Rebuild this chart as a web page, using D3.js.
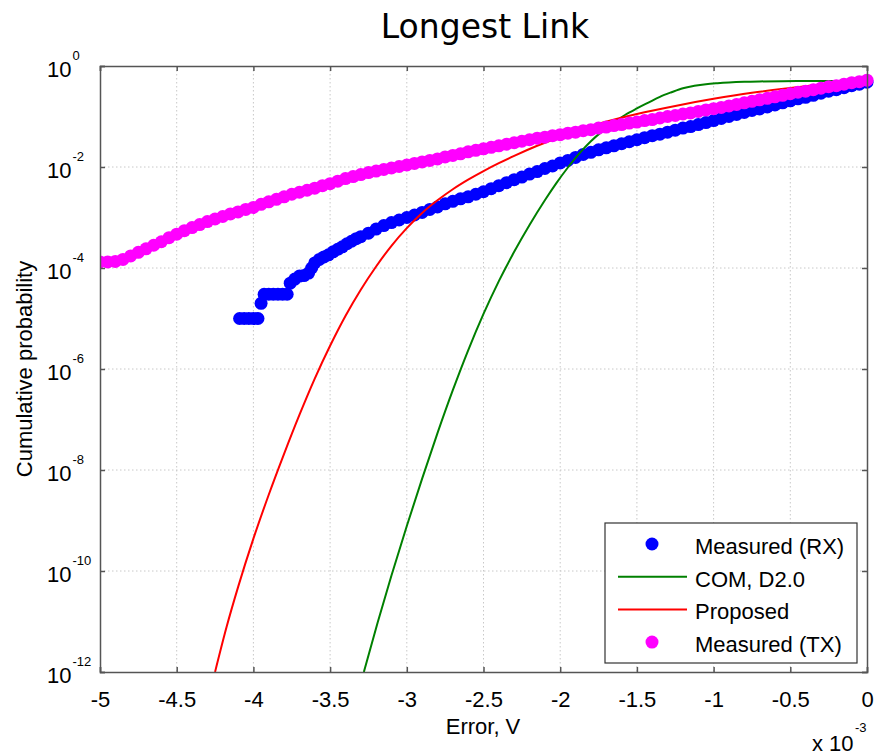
<!DOCTYPE html>
<html>
<head>
<meta charset="utf-8">
<script src="https://cdn.jsdelivr.net/npm/d3@7"></script>
<style>
  body { margin: 0; background: #fff; }
  svg text { font-family: "Liberation Sans", Arial, sans-serif; fill: #000; }
</style>
</head>
<body>
<svg id="chart" width="874" height="755"></svg>
<script>
// ---- data -------------------------------------------------------------
// x: error in units of 1e-3 V, y: log10 of the cumulative probability
const xTicks = [-5, -4.5, -4, -3.5, -3, -2.5, -2, -1.5, -1, -0.5, 0];
const yTickExponents = [0, -2, -4, -6, -8, -10, -12];

const seriesNames  = ["Measured (RX)", "COM, D2.0", "Proposed", "Measured (TX)"];
const seriesColors = ["#0000ff", "#008000", "#ff0000", "#ff00ff"];

const rxPoints = [
  [-4.09,-5.0],[-4.06,-5.0],[-4.03,-5.0],[-4.00,-5.0],[-3.97,-5.0],
  [-3.95,-4.70],
  [-3.93,-4.52],[-3.90,-4.52],[-3.87,-4.52],[-3.84,-4.52],[-3.81,-4.52],[-3.78,-4.52],
  [-3.76,-4.30],[-3.73,-4.22],[-3.70,-4.16],[-3.67,-4.15],[-3.64,-4.10],
  [-3.62,-4.00],[-3.60,-3.90],[-3.57,-3.83],[-3.54,-3.78],[-3.51,-3.74],[-3.48,-3.68],
  [-3.45,-3.63],[-3.42,-3.58],[-3.39,-3.52],[-3.36,-3.47],
  [-3.33,-3.42],[-3.30,-3.38],[-3.25,-3.31],[-3.20,-3.23],[-3.15,-3.16],[-3.10,-3.10],
  [-3.05,-3.05],[-3.00,-3.00],
  [-2.95,-2.95],[-2.90,-2.90],[-2.85,-2.84],[-2.80,-2.79],[-2.75,-2.73],[-2.70,-2.68],
  [-2.65,-2.63],[-2.60,-2.59],[-2.55,-2.54],[-2.50,-2.49],
  [-2.45,-2.43],[-2.40,-2.37],[-2.35,-2.31],[-2.30,-2.25],[-2.25,-2.20],[-2.20,-2.14],
  [-2.15,-2.09],[-2.10,-2.03],[-2.05,-1.98],[-2.00,-1.92],
  [-1.95,-1.87],[-1.90,-1.81],[-1.85,-1.75],[-1.80,-1.71],[-1.75,-1.66],[-1.70,-1.62],
  [-1.65,-1.58],[-1.60,-1.54],[-1.55,-1.50],[-1.50,-1.46],
  [-1.45,-1.42],[-1.40,-1.38],[-1.35,-1.35],[-1.30,-1.31],[-1.25,-1.27],[-1.20,-1.23],
  [-1.15,-1.20],[-1.10,-1.16],[-1.05,-1.12],[-1.00,-1.08],
  [-0.95,-1.04],[-0.90,-1.00],[-0.85,-0.96],[-0.80,-0.92],[-0.75,-0.88],[-0.70,-0.85],
  [-0.65,-0.81],[-0.60,-0.77],[-0.55,-0.73],[-0.50,-0.69],
  [-0.45,-0.65],[-0.40,-0.62],[-0.35,-0.58],[-0.30,-0.54],[-0.25,-0.50],[-0.20,-0.47],
  [-0.15,-0.43],[-0.10,-0.39],[-0.05,-0.36],[0.00,-0.32]
];

const comCurve = [
  [-3.28,-12.0],[-3.19,-11.02],[-3.10,-10.09],[-3.00,-9.11],[-2.90,-8.17],[-2.80,-7.27],
  [-2.70,-6.42],[-2.60,-5.63],[-2.50,-4.91],[-2.40,-4.26],[-2.30,-3.68],[-2.20,-3.15],
  [-2.10,-2.66],[-2.025,-2.32],[-1.95,-2.01],[-1.875,-1.73],[-1.80,-1.49],[-1.725,-1.29],
  [-1.65,-1.115],[-1.575,-0.965],[-1.50,-0.84],[-1.425,-0.724],[-1.35,-0.61],
  [-1.275,-0.52],[-1.20,-0.44],[-1.125,-0.393],[-1.05,-0.36],[-0.975,-0.34],
  [-0.90,-0.325],[-0.80,-0.312],[-0.70,-0.305],[-0.55,-0.300],[-0.40,-0.298],
  [-0.20,-0.297],[0.00,-0.296]
];

const proposedCurve = [
  [-4.25,-12.0],[-4.175,-11.11],[-4.10,-10.32],[-4.00,-9.36],[-3.90,-8.49],[-3.80,-7.68],
  [-3.70,-6.91],[-3.60,-6.19],[-3.50,-5.54],[-3.40,-4.95],[-3.30,-4.43],[-3.20,-3.97],
  [-3.10,-3.56],[-3.00,-3.21],[-2.90,-2.91],[-2.80,-2.66],[-2.70,-2.44],[-2.60,-2.25],
  [-2.50,-2.08],[-2.40,-1.925],[-2.30,-1.78],[-2.15,-1.58],[-2.00,-1.405],[-1.75,-1.145],
  [-1.50,-0.95],[-1.25,-0.79],[-1.00,-0.65],[-0.75,-0.53],[-0.50,-0.435],[-0.25,-0.35],
  [0.00,-0.28]
];

const txPoints = [
  [-5.00,-3.88],[-4.95,-3.88],[-4.90,-3.87],[-4.85,-3.83],[-4.80,-3.76],[-4.75,-3.69],
  [-4.70,-3.62],[-4.65,-3.55],[-4.60,-3.48],[-4.55,-3.40],[-4.50,-3.33],[-4.45,-3.26],
  [-4.40,-3.20],[-4.35,-3.14],[-4.30,-3.08],[-4.25,-3.03],[-4.20,-2.98],[-4.15,-2.93],
  [-4.10,-2.89],[-4.05,-2.84],[-4.00,-2.80],[-3.95,-2.74],[-3.90,-2.69],[-3.85,-2.64],
  [-3.80,-2.59],[-3.75,-2.54],[-3.70,-2.50],[-3.65,-2.46],[-3.60,-2.42],[-3.55,-2.37],
  [-3.50,-2.33],[-3.45,-2.28],[-3.40,-2.23],[-3.35,-2.19],[-3.30,-2.15],[-3.25,-2.11],
  [-3.20,-2.08],[-3.15,-2.05],[-3.10,-2.02],[-3.05,-1.99],[-3.00,-1.96],[-2.95,-1.93],
  [-2.90,-1.90],[-2.85,-1.87],[-2.80,-1.84],[-2.75,-1.80],[-2.70,-1.77],[-2.65,-1.74],
  [-2.60,-1.70],[-2.55,-1.67],[-2.50,-1.64],[-2.45,-1.61],[-2.40,-1.58],[-2.35,-1.55],
  [-2.30,-1.52],[-2.25,-1.49],[-2.20,-1.46],[-2.15,-1.43],[-2.10,-1.41],[-2.05,-1.38],
  [-2.00,-1.36],[-1.95,-1.33],[-1.90,-1.31],[-1.85,-1.28],[-1.80,-1.26],[-1.75,-1.23],
  [-1.70,-1.21],[-1.65,-1.18],[-1.60,-1.16],[-1.55,-1.13],[-1.50,-1.11],[-1.45,-1.08],
  [-1.40,-1.06],[-1.35,-1.03],[-1.30,-1.00],[-1.25,-0.98],[-1.20,-0.95],[-1.15,-0.93],
  [-1.10,-0.90],[-1.05,-0.87],[-1.00,-0.845],[-0.95,-0.82],[-0.90,-0.79],[-0.85,-0.76],
  [-0.80,-0.73],[-0.75,-0.70],[-0.70,-0.67],[-0.65,-0.64],[-0.60,-0.61],[-0.55,-0.58],
  [-0.50,-0.55],[-0.45,-0.52],[-0.40,-0.50],[-0.35,-0.47],[-0.30,-0.44],[-0.25,-0.41],
  [-0.20,-0.39],[-0.15,-0.36],[-0.10,-0.33],[-0.05,-0.31],[0.00,-0.28]
];

// ---- layout -----------------------------------------------------------
const plot = { left: 100, right: 867, top: 66, bottom: 672 };
const svg = d3.select("#chart");

const x = d3.scaleLinear().domain([-5, 0]).range([plot.left, plot.right]);
const y = d3.scaleLog().domain([1e-12, 1]).range([plot.bottom, plot.top]);
const py = d => y(Math.pow(10, d));

// grid
const grid = svg.append("g").attr("stroke", "#c8c8c8").attr("stroke-width", 1)
  .attr("stroke-dasharray", "1.5,2.5");
grid.selectAll(".gx").data(xTicks.slice(1, -1)).join("line")
  .attr("x1", d => x(d)).attr("x2", d => x(d))
  .attr("y1", plot.top).attr("y2", plot.bottom);
grid.selectAll(".gy").data(yTickExponents.slice(1, -1)).join("line")
  .attr("x1", plot.left).attr("x2", plot.right)
  .attr("y1", d => py(d)).attr("y2", d => py(d));

// clip for data marks
svg.append("clipPath").attr("id", "plotClip").append("rect")
  .attr("x", plot.left).attr("y", plot.top - 20)
  .attr("width", plot.right - plot.left + 20).attr("height", plot.bottom - plot.top + 20);

const marks = svg.append("g").attr("clip-path", "url(#plotClip)");
const R = 6.5;

// Measured (RX)
marks.append("g").selectAll("circle").data(rxPoints).join("circle")
  .attr("cx", d => x(d[0])).attr("cy", d => py(d[1])).attr("r", R)
  .attr("fill", seriesColors[0]);

const line = d3.line().x(d => x(d[0])).y(d => py(d[1])).curve(d3.curveMonotoneX);

// COM, D2.0
marks.append("path").datum(comCurve).attr("d", line)
  .attr("fill", "none").attr("stroke", seriesColors[1]).attr("stroke-width", 2);
// Proposed
marks.append("path").datum(proposedCurve).attr("d", line)
  .attr("fill", "none").attr("stroke", seriesColors[2]).attr("stroke-width", 2);

// Measured (TX)
marks.append("g").selectAll("circle").data(txPoints).join("circle")
  .attr("cx", d => x(d[0])).attr("cy", d => py(d[1])).attr("r", R)
  .attr("fill", seriesColors[3]);

// ---- axes -------------------------------------------------------------
const axisColor = "#555";
const fontSize = 22;
const supSize = 13;

const xAxis = svg.append("g").attr("transform", `translate(0,${plot.bottom})`)
  .call(d3.axisBottom(x).tickValues(xTicks).tickSize(-5).tickPadding(19)
    .tickFormat(d => d3.format("")(d).replace("−", "-")));
const xAxisTop = svg.append("g").attr("transform", `translate(0,${plot.top})`)
  .call(d3.axisTop(x).tickValues(xTicks).tickSize(-5).tickFormat(""));
const yAxis = svg.append("g").attr("transform", `translate(${plot.left},0)`)
  .call(d3.axisLeft(y).tickValues(yTickExponents.map(e => Math.pow(10, e)))
    .tickSize(-5).tickFormat(""));
const yAxisRight = svg.append("g").attr("transform", `translate(${plot.right},0)`)
  .call(d3.axisRight(y).tickValues(yTickExponents.map(e => Math.pow(10, e)))
    .tickSize(-5).tickFormat(""));

[xAxis, xAxisTop, yAxis, yAxisRight].forEach(a => {
  a.select(".domain").attr("stroke", axisColor).attr("stroke-width", 1.5);
  a.selectAll(".tick line").attr("stroke", axisColor).attr("stroke-width", 1.5);
});
xAxis.selectAll(".tick text").attr("font-size", fontSize)
  .attr("font-family", '"Liberation Sans", Arial, sans-serif').attr("fill", "#000");

// y tick labels: "10" with a superscript exponent
yAxis.selectAll(".tick").each(function(d) {
  const e = Math.round(Math.log10(d));
  const g = d3.select(this);
  g.append("text").attr("x", -28.5).attr("y", 10).attr("text-anchor", "end")
    .attr("font-size", fontSize).text("10");
  g.append("text").attr("x", -27.5).attr("y", -7).attr("text-anchor", "start")
    .attr("font-size", supSize).text(String(e).replace("−", "-"));
});

// ---- titles -----------------------------------------------------------
svg.append("text").attr("x", 485).attr("y", 38).attr("text-anchor", "middle")
  .attr("font-size", 33)
  .style("font-family", '"DejaVu Sans", sans-serif').text("Longest Link");

svg.append("text").attr("x", 483).attr("y", 734).attr("text-anchor", "middle")
  .attr("font-size", fontSize).text("Error, V");

svg.append("text").attr("transform", "translate(32,369) rotate(-90)")
  .attr("text-anchor", "middle").attr("font-size", fontSize).text("Cumulative probability");

svg.append("text").attr("x", 812).attr("y", 751).attr("font-size", fontSize).text("x 10");
svg.append("text").attr("x", 855).attr("y", 732).attr("font-size", supSize).text("-3");

// ---- legend -----------------------------------------------------------
const legend = svg.append("g");
legend.append("rect").attr("x", 605).attr("y", 523).attr("width", 252).attr("height", 140)
  .attr("fill", "#fff").attr("stroke", "#333").attr("stroke-width", 1.2);
const rowY = i => 544 + i * 32.7;
seriesNames.forEach((name, i) => {
  const gy = rowY(i);
  if (i === 0 || i === 3) {
    legend.append("circle").attr("cx", 652).attr("cy", gy).attr("r", R)
      .attr("fill", seriesColors[i]);
  } else {
    legend.append("line").attr("x1", 618).attr("x2", 687).attr("y1", gy).attr("y2", gy)
      .attr("stroke", seriesColors[i]).attr("stroke-width", 2);
  }
  legend.append("text").attr("x", 695).attr("y", gy + 10).attr("font-size", fontSize).text(name);
});
</script>
</body>
</html>
